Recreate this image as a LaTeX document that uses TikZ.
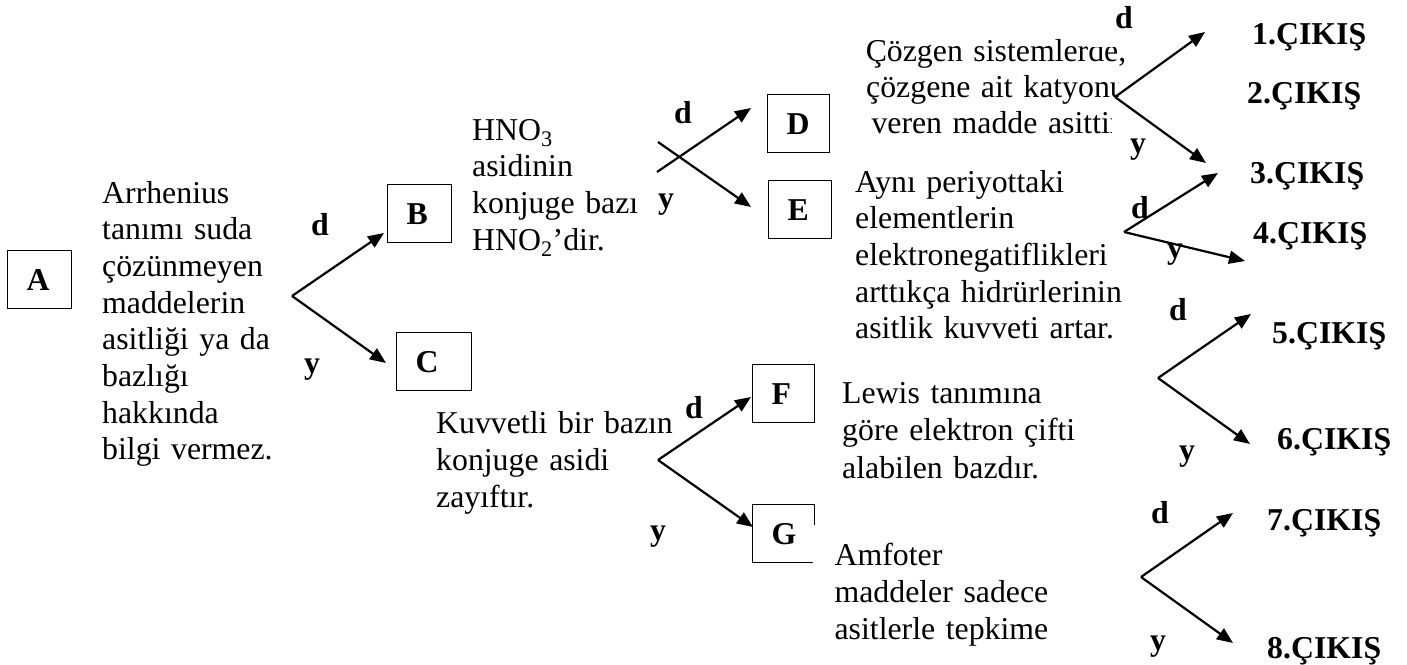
\documentclass[tikz,border=0pt]{standalone}
\usepackage{fontspec}
\setmainfont{Liberation Serif}
\usetikzlibrary{arrows.meta}
\newcommand{\bodyfont}{\fontsize{31.8}{36.7}\selectfont}
\begin{document}
\begin{tikzpicture}[x=1pt,y=-1pt,
  every node/.style={inner sep=0pt},
  txt/.style={anchor=base west, align=left, text width=#1, font=\bodyfont},
  letterbox/.style={draw, line width=1.4pt, anchor=north west, minimum height=58pt,
    inner xsep=19pt, text width=#1, align=left, font=\bodyfont\bfseries},
  choice/.style={font=\bodyfont\bfseries},
  exitlabel/.style={anchor=base west, font=\bodyfont\bfseries},
  fwd/.style={line width=2.2pt, -{Triangle[length=16pt,width=13pt]}}]
\useasboundingbox (0,0) rectangle (1407,664);

% question boxes
\node[letterbox=26pt] (A) at (7,250) {A};
\node[letterbox=26pt] (B) at (387,184) {B};
\node[letterbox=37pt] (C) at (396,332) {C};
\node[letterbox=24pt] (D) at (767,94) {D};
\node[letterbox=25pt] (E) at (768,180) {E};
\node[letterbox=24pt] (F) at (752,364) {F};
\node[letterbox=24pt] (G) at (752,504) {G};

% statements
\node[txt=220pt] (sA) at (102,203) {Arrhenius\\tanımı suda\\çözünmeyen\\maddelerin\\asitliği ya da\\bazlığı\\hakkında\\bilgi vermez.};
\node[txt=200pt] (sB) at (472,140) {HNO\textsubscript{3}\\asidinin\\konjuge bazı\\HNO\textsubscript{2}’dir.};
\node[txt=240pt, font=\fontsize{31.8}{37}\selectfont] (sC) at (436,433) {Kuvvetli bir bazın\\konjuge asidi\\zayıftır.};
\begin{scope}
  \clip (840,0) -- (1086,0) -- (1086,46.5) -- (1140,46.5) -- (1140,72) -- (1118,72)
        -- (1118,106) -- (1111,106) -- (1111,150) -- (840,150) -- cycle;
  \node[anchor=base, align=center, text width=300pt, font=\fontsize{31.8}{36}\selectfont] (sD) at (996,61)
    {Çözgen sistemlerde,\\çözgene ait katyonu\\veren madde asittir};
\end{scope}
\node[txt=300pt] (sE) at (855,192) {Aynı periyottaki\\elementlerin\\elektronegatiflikleri\\arttıkça hidrürlerinin\\asitlik kuvveti artar.};
\node[txt=260pt, font=\fontsize{31.8}{37.5}\selectfont] (sF) at (842,403) {Lewis tanımına\\göre elektron çifti\\alabilen bazdır.};
\node[anchor=north west, fill=white, inner xsep=22pt, inner ysep=17.4pt, text width=250pt,
  align=left, font=\fontsize{31.8}{37}\selectfont] (sG) at (812.4,525)
  {Amfoter\\maddeler sadece\\asitlerle tepkime};

% branch points and arrow ends
\coordinate (vA) at (292,296);
\coordinate (tB) at (384,233);
\coordinate (tC) at (386,363);
\coordinate (sBd) at (657,172);
\coordinate (sBy) at (658,142);
\coordinate (tD) at (751,108);
\coordinate (tE) at (751,207);
\coordinate (vC) at (658,460);
\coordinate (tF) at (751,397);
\coordinate (tG) at (753,527);
\coordinate (vD) at (1115,97);
\coordinate (t1) at (1205,32);
\coordinate (t2) at (1206,163);
\coordinate (vE) at (1124,232);
\coordinate (t3) at (1218,173);
\coordinate (t4) at (1245,261);
\coordinate (vF) at (1158,378);
\coordinate (t5) at (1251,314);
\coordinate (t6) at (1250,444);
\coordinate (vG) at (1141,577);
\coordinate (t7) at (1233,513);
\coordinate (t8) at (1233,643);

\draw[fwd] (vA) -- (tB);
\draw[fwd] (vA) -- (tC);
\draw[fwd] (sBd) -- (tD);
\draw[fwd] (sBy) -- (tE);
\draw[fwd] (vC) -- (tF);
\draw[fwd] (vC) -- (tG);
\draw[fwd] (vD) -- (t1);
\draw[fwd] (vD) -- (t2);
\draw[fwd] (vE) -- (t3);
\draw[fwd] (vE) -- (t4);
\draw[fwd] (vF) -- (t5);
\draw[fwd] (vF) -- (t6);
\draw[fwd] (vG) -- (t7);
\draw[fwd] (vG) -- (t8);

% d / y labels
\node[choice] (dA) at (320,225) {d};
\node[choice] (yA) at (312,370) {y};
\node[choice] (dB) at (683,113) {d};
\node[choice] (yB) at (666,205) {y};
\node[choice] (dC) at (694,408) {d};
\node[choice] (yC) at (658,537) {y};
\node[choice] (dD) at (1124,18) {d};
\node[choice] (yD) at (1138,150) {y};
\node[choice] (dE) at (1140,208) {d};
\node[choice] (yE) at (1175,255) {y};
\node[choice] (dF) at (1178,310) {d};
\node[choice] (yF) at (1187,457) {y};
\node[choice] (dG) at (1160,513) {d};
\node[choice] (yG) at (1158,647) {y};

% exits
\node[exitlabel] (e1) at (1252,44) {1.ÇIKIŞ};
\node[exitlabel] (e2) at (1247,103) {2.ÇIKIŞ};
\node[exitlabel] (e3) at (1250,183) {3.ÇIKIŞ};
\node[exitlabel] (e4) at (1253,243) {4.ÇIKIŞ};
\node[exitlabel] (e5) at (1272,343) {5.ÇIKIŞ};
\node[exitlabel] (e6) at (1277,449) {6.ÇIKIŞ};
\node[exitlabel] (e7) at (1267,530) {7.ÇIKIŞ};
\node[exitlabel] (e8) at (1267,658) {8.ÇIKIŞ};
\end{tikzpicture}
\end{document}
